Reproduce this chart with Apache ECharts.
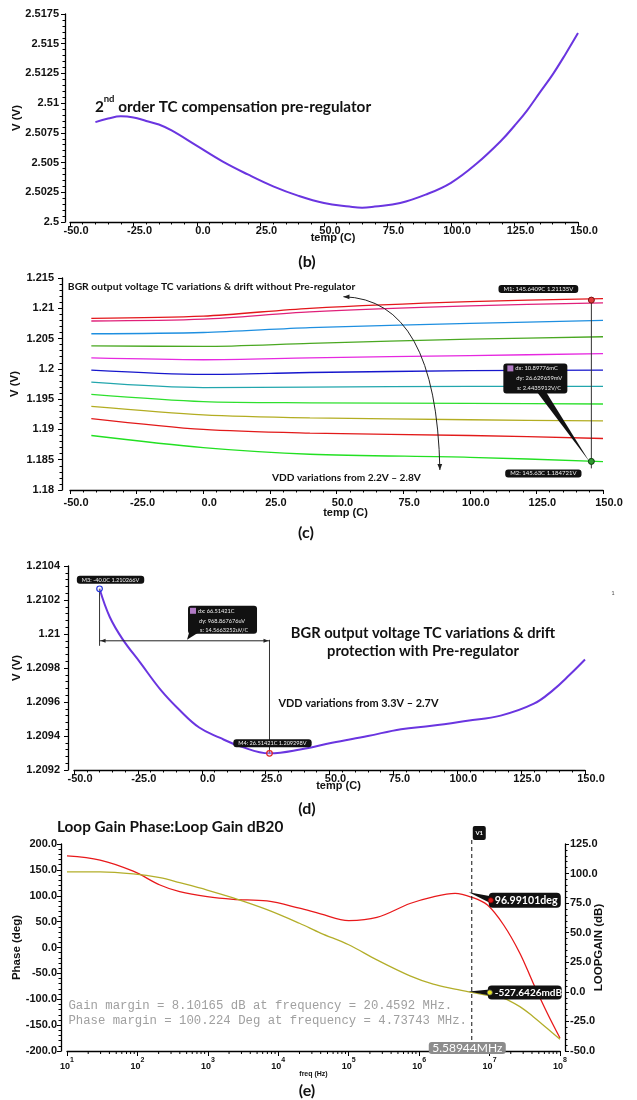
<!DOCTYPE html>
<html>
<head>
<meta charset="utf-8">
<script src="https://cdn.jsdelivr.net/npm/echarts@6/dist/echarts.min.js"></script>
<style>
html,body{margin:0;padding:0;background:#ffffff;}
#chart{width:637px;height:1100px;}
#err{position:absolute;left:100px;top:300px;font:10px monospace;white-space:pre-wrap;color:#900;}
</style>
</head>
<body>
<div id="chart"></div>
<div id="err"></div>
<script>
// ---------------- data ----------------
// Panel (b): 2nd order TC compensation pre-regulator
const tempB = [-40,-35,-30,-25,-20,-15,-10,0,10,20,30,40,50,60,65,70,80,90,100,110,120,125,130,135,140,145,150];
const voltB = [2.5084,2.5087,2.5089,2.5088,2.5085,2.5082,2.5077,2.5064,2.5051,2.5040,2.5030,2.5022,2.5016,2.5013,2.5012,2.5013,2.5016,2.5023,2.5033,2.5049,2.5069,2.5081,2.5094,2.5109,2.5124,2.5141,2.5159];

// Panel (c): BGR output without pre-regulator (VDD 2.2V - 2.8V)
const tempC = [-42, 0, 40, 100, 150];
const vC01 = [1.20835, 1.2087, 1.2100, 1.2111, 1.2116];
const vC02 = [1.2079, 1.2082, 1.2094, 1.2104, 1.2109];
const vC03 = [1.2058, 1.2060, 1.2068, 1.2075, 1.2080];
const vC04 = [1.2038, 1.2037, 1.2042, 1.2049, 1.2053];
const vC05 = [1.2018, 1.2015, 1.2018, 1.2022, 1.2025];
const vC06 = [1.1998, 1.1991, 1.1994, 1.1997, 1.1998];
const vC07 = [1.1978, 1.1969, 1.1970, 1.1971, 1.1971];
const vC08 = [1.1958, 1.1946, 1.1944, 1.1943, 1.1942];
const vC09 = [1.1938, 1.1924, 1.1919, 1.1916, 1.1914];
const vC10 = [1.1918, 1.1900, 1.1894, 1.1890, 1.1885];
const vC11 = [1.1890, 1.1870, 1.1859, 1.1854, 1.1847];
const seriesC = [vC01, vC02, vC03, vC04, vC05, vC06, vC07, vC08, vC09, vC10, vC11];
const colorsC = ['#e3161b','#e0207a','#1e8fe0','#4aa822','#e628e0','#1616cc','#22a6ad','#2ee02e','#b3ad22','#e21a1a','#22e022'];
const markM1 = [145.6409, 1.21135];
const markM2 = [145.63, 1.184721];

// Panel (d): BGR output with pre-regulator (VDD 3.3V - 2.7V)
const tempD = [-40,-36,-31,-24,-16,-8.5,-1,7,15,26.5,38.5,51,65,78,90,104,117,130,137.5,144,150];
const voltD = [1.210266,1.21010,1.20997,1.20983,1.20967,1.20955,1.20945,1.20939,1.20934,1.209298,1.20932,1.20936,1.20940,1.20944,1.20946,1.20949,1.20952,1.20959,1.20967,1.20976,1.20985];
const markM3 = [-40.0, 1.210266];
const markM4 = [26.51421, 1.209298];

// Panel (e): loop gain (dB20) and phase vs frequency
const freqE  = [10, 29.5, 87.1, 208.9, 398, 977, 2291, 6918, 19953, 39811, 100000, 251189, 741310, 1584893, 3235937, 5589440, 9332543, 15848932, 26915348, 41686938, 66069345, 100000000];
const phaseE = [177, 169, 147.5, 120.8, 107.9, 98.2, 93.1, 89.9, 76, 65, 52, 58, 85, 98, 104.5, 97, 82, 43.5, -11, -69, -127, -175];
const gainE  = [101.5, 101.5, 99.8, 96.5, 92.3, 86.1, 79.4, 69.5, 58, 49.7, 39.8, 27, 13.5, 6.5, 2.3, -0.53, -3, -5.5, -12.5, -21, -31, -40];
const markV1 = 5.58944e6;
const markPhase = 96.99101;
const markGain = -0.5276426;

// ---------------- chart ----------------
const FONT = 'Lato, "Open Sans", "DejaVu Sans", sans-serif';
const AXF = '"Liberation Sans", Arial, sans-serif';
const chart = echarts.init(document.getElementById('chart'), null, {renderer: 'canvas', width: 637, height: 1100});
const labStyle = {fontFamily: AXF, fontWeight: 'bold', fontSize: 11, color: '#111'};
const axLine = () => ({onZero: false, lineStyle: {color: '#000', width: 1.3}});

function xTemp(grid, margin, nameGap) {
  return {
    type: 'value', gridIndex: grid, min: -50, max: 150, interval: 25,
    axisLine: axLine(),
    axisTick: {length: 4, lineStyle: {color: '#000'}},
    minorTick: {show: true, splitNumber: 5, length: 2.5, lineStyle: {color: '#000'}},
    splitLine: {show: false},
    axisLabel: Object.assign({}, labStyle, {margin: margin, padding: [0, 0, 0, 12], formatter: v => v.toFixed(1)}),
    name: 'temp (C)', nameLocation: 'middle', nameGap: nameGap, nameMoveOverlap: false,
    nameTextStyle: {fontFamily: AXF, fontWeight: 'bold', fontSize: 11, color: '#111', padding: [0, 0, 0, 18]}
  };
}
function yVal(grid, min, max, interval, digits, offset, margin, name, nameGap, pos) {
  return {
    type: 'value', gridIndex: grid, min: min, max: max, interval: interval, offset: offset,
    position: pos || 'left',
    axisLine: axLine(),
    axisTick: {length: 4, lineStyle: {color: '#000'}},
    minorTick: {show: true, splitNumber: 5, length: 2.5, lineStyle: {color: '#000'}},
    splitLine: {show: false},
    axisLabel: Object.assign({}, labStyle, {margin: margin, formatter: v => digits < 0 ? String(parseFloat(v.toFixed(-digits))) : v.toFixed(digits)}),
    name: name, nameLocation: 'middle', nameGap: nameGap, nameMoveOverlap: false,
    nameTextStyle: {fontFamily: AXF, fontWeight: 'bold', fontSize: 11.5, color: '#111'}
  };
}

const series = [];
series.push({type: 'line', xAxisIndex: 0, yAxisIndex: 0, showSymbol: false, smooth: 0.4,
  data: tempB.map((t, i) => [t, voltB[i]]), lineStyle: {color: '#6a35e0', width: 2}});
seriesC.forEach((arr, k) => {
  series.push({type: 'line', xAxisIndex: 1, yAxisIndex: 1, showSymbol: false, smooth: 0.3,
    data: tempC.map((t, i) => [t, arr[i]]), lineStyle: {color: colorsC[k], width: 1.3}});
});
series.push({type: 'line', xAxisIndex: 2, yAxisIndex: 2, showSymbol: false, smooth: 0.4,
  data: tempD.map((t, i) => [t, voltD[i]]), lineStyle: {color: '#6a35e0', width: 2}});
const phaseIdx = series.length;
series.push({type: 'line', xAxisIndex: 3, yAxisIndex: 3, showSymbol: false, smooth: 0.35,
  data: freqE.map((f, i) => [Math.log10(f), phaseE[i]]), lineStyle: {color: '#e8191b', width: 1.3}});
const gainIdx = series.length;
series.push({type: 'line', xAxisIndex: 4, yAxisIndex: 4, showSymbol: false, smooth: 0.35,
  data: freqE.map((f, i) => [Math.log10(f), gainE[i]]), lineStyle: {color: '#b3ae2a', width: 1.3}});
// decade minor ticks of the logarithmic frequency axis
const minorE = [];
for (let n = 1; n < 8; n++) for (let k = 2; k < 10; k++) minorE.push([n + Math.log10(k), -200]);
series.push({type: 'custom', xAxisIndex: 3, yAxisIndex: 3, silent: true, clip: false,
  data: minorE, encode: {x: 0, y: 1},
  renderItem: (params, api) => {
    const p = api.coord([api.value(0), api.value(1)]);
    return {type: 'line', shape: {x1: p[0], y1: p[1], x2: p[0], y2: p[1] + 3}, style: {stroke: '#000', lineWidth: 1}};
  }});

const gridE = {left: 67, top: 844, width: 493, height: 207};
const option = {
  backgroundColor: '#ffffff',
  animation: false,
  grid: [
    {left: 70, top: 14, width: 508, height: 208},
    {left: 70, top: 278, width: 533, height: 212},
    {left: 74, top: 566, width: 511, height: 204},
    Object.assign({}, gridE),
    Object.assign({}, gridE)
  ],
  xAxis: [
    xTemp(0, 3, 10), xTemp(1, 7, 17), xTemp(2, 3, 10),
    {type: 'value', gridIndex: 3, min: 1, max: 8, interval: 1, axisLine: axLine(),
      axisTick: {length: 5, lineStyle: {color: '#000'}}, splitLine: {show: false},
      axisLabel: {margin: 6, formatter: v => '{b|10}{s|' + Math.round(v) + '}',
        rich: {b: {fontFamily: AXF, fontWeight: 'bold', fontSize: 9, color: '#111', lineHeight: 14, verticalAlign: 'bottom'},
               s: {fontFamily: AXF, fontWeight: 'bold', fontSize: 7, color: '#111', lineHeight: 14, verticalAlign: 'top'}}},
      name: 'freq (Hz)', nameLocation: 'middle', nameGap: 20, nameMoveOverlap: false,
      nameTextStyle: {fontFamily: AXF, fontWeight: 'bold', fontSize: 7, color: '#111'}},
    {type: 'value', gridIndex: 4, min: 1, max: 8, interval: 1, show: false}
  ],
  yAxis: [
    yVal(0, 2.5, 2.5175, 0.0025, -4, 5, 6, 'V (V)', 42),
    yVal(1, 1.18, 1.215, 0.005, -3, 8, 8, 'V (V)', 41),
    yVal(2, 1.2092, 1.2104, 0.0002, -4, 6, 8, 'V (V)', 45),
    yVal(3, -200, 200, 50, 1, 6, 4, 'Phase (deg)', 38),
    yVal(4, -50, 125, 25, 1, 5, 5, 'LOOPGAIN (dB)', 28, 'right')
  ],
  series: series
};
const LOG = [];
try { chart.setOption(option); } catch (e) { LOG.push('main: ' + e.message); }

// ---------------- annotations ----------------
const P = (g, x, y) => chart.convertToPixel({gridIndex: g}, [x, y]);
const G = [];
function txt(x, y, text, font, fill, align, vAlign, extra) {
  G.push({type: 'text', x: x, y: y, z: 100, silent: true,
    style: Object.assign({text: text, font: font, fill: fill || '#111', align: align || 'left', verticalAlign: vAlign || 'middle'}, extra || {})});
}
function line(x1, y1, x2, y2, stroke, lw, dash) {
  const st = {stroke: stroke || '#222', lineWidth: lw || 1};
  if (dash) st.lineDash = dash;
  G.push({type: 'line', z: 99, silent: true, shape: {x1: x1, y1: y1, x2: x2, y2: y2}, style: st});
}
function rect(x, y, w, h, fill, r) {
  G.push({type: 'rect', z: 100, silent: true, shape: {x: x, y: y, width: w, height: h, r: r || 0}, style: {fill: fill}});
}
function dot(x, y, r, fill, stroke, lw) {
  G.push({type: 'circle', z: 102, silent: true, shape: {cx: x, cy: y, r: r}, style: {fill: fill, stroke: stroke, lineWidth: lw || 1}});
}
function poly(points, fill) {
  G.push({type: 'polygon', z: 100, silent: true, shape: {points: points}, style: {fill: fill}});
}
function head(tx, ty, dx, dy, size, fill) {
  const L = Math.hypot(dx, dy), ux = dx / L, uy = dy / L, nx = -uy, ny = ux;
  const bx = tx - ux * size, by = ty - uy * size;
  poly([[tx, ty], [bx + nx * size * 0.4, by + ny * size * 0.4], [bx - nx * size * 0.4, by - ny * size * 0.4]], fill || '#222');
}
function tag(x, y, text, font) {
  txt(x, y, text, font || '6px ' + FONT, '#f2f2f2', 'center', 'middle',
    {backgroundColor: '#111', borderRadius: 3, padding: [1, 5, 1, 5]});
}
const BOLD = s => 'bold ' + s + 'px ' + FONT;

try {
  txt(307, 262, '(b)', BOLD(16), '#111', 'center');
  txt(306, 533, '(c)', BOLD(16), '#111', 'center');
  txt(307, 809, '(d)', BOLD(16), '#111', 'center');
  txt(307, 1091, '(e)', BOLD(16), '#111', 'center');

  // (b) title
  {
    const p = P(0, -40.2, 2.5099);
    G.push({type: 'text', x: p[0], y: p[1], z: 100, silent: true, style: {
      text: '{a|2}{s|nd}{a| order TC compensation pre-regulator}', align: 'left', verticalAlign: 'middle',
      rich: {
        a: {font: BOLD(15.3), fill: '#111', lineHeight: 20, verticalAlign: 'bottom'},
        s: {font: BOLD(9.5), fill: '#111', lineHeight: 20, verticalAlign: 'top'}
      }
    }});
  }

  // (c) annotations
  {
    const t1 = P(1, -50.8, 1.21351);
    txt(t1[0], t1[1], 'BGR output voltage TC variations & drift without Pre-regulator', BOLD(10.3));
    const t2 = P(1, 25.8, 1.18198);
    txt(t2[0], t2[1], 'VDD variations from 2.2V \u2013 2.8V', BOLD(10.15));
    const a0 = P(1, 52.6, 1.21191), a1 = P(1, 88.8, 1.1833), ac = P(1, 87.5, 1.2115);
    G.push({type: 'bezierCurve', z: 99, silent: true,
      shape: {x1: a0[0], y1: a0[1], x2: a1[0], y2: a1[1], cpx1: ac[0], cpy1: ac[1]},
      style: {stroke: '#222', lineWidth: 1, fill: null}});
    head(a0[0], a0[1], a0[0] - ac[0], a0[1] - ac[1], 6);
    head(a1[0], a1[1], a1[0] - ac[0], a1[1] - ac[1], 6);
    const m1 = P(1, markM1[0], markM1[1]), m2 = P(1, markM2[0], markM2[1]);
    line(m1[0], m1[1], m2[0], m2[1] + 7, '#333', 1);
    dot(m1[0], m1[1], 3, '#e03a3a', '#7a1010', 1);
    dot(m2[0], m2[1], 3, '#2f9a2f', '#0a3a0a', 1);
    tag(m1[0] - 53, m1[1] - 11, 'M1: 145.6409C 1.21135V');
    tag(m2[0] - 48, m2[1] + 12, 'M2: 145.63C 1.184721V');
    const bx = m2[0] - 88, by = m2[1] - 98;
    poly([[bx + 34, by + 29], [bx + 43, by + 29], [m2[0] - 2, m2[1]]], '#111');
    rect(bx, by, 64, 30, '#111', 3);
    rect(bx + 4, by + 2, 6, 6, '#b07ac4', 0);
    txt(bx + 12, by + 5, 'dx: 10.89776mC', '5.8px ' + FONT, '#eee');
    txt(bx + 13, by + 15, 'dy: 26.629659mV', '5.8px ' + FONT, '#eee');
    txt(bx + 14, by + 25, 's: 2.4435912V/C', '5.8px ' + FONT, '#eee');
  }

  // (d) annotations
  {
    const m3 = P(2, markM3[0], markM3[1]), m4 = P(2, markM4[0], markM4[1]);
    const hy = P(2, 0, 1.20996)[1];
    line(m3[0], m3[1], m3[0], hy + 5, '#333', 1);
    line(m4[0], hy - 1, m4[0], m4[1], '#333', 1);
    line(m3[0], hy, m4[0], hy, '#222', 1);
    head(m3[0] + 1, hy, -1, 0, 5);
    head(m4[0] - 1, hy, 1, 0, 5);
    dot(m3[0], m3[1], 2.8, 'rgba(255,255,255,0.3)', '#2233dd', 1.2);
    dot(m4[0], m4[1], 2.8, 'rgba(255,255,255,0.3)', '#dd2222', 1.2);
    tag(m3[0] + 11, m3[1] - 9, 'M3: -40.0C 1.210266V', '5.6px ' + FONT);
    tag(m4[0] + 3, m4[1] - 10, 'M4: 26.51421C 1.209298V', '5.6px ' + FONT);
    const bx = (m3[0] + m4[0]) / 2 + 3.5, by = hy - 35;
    poly([[bx + 1, by + 27], [bx + 10, by + 27], [bx - 1, hy - 1]], '#111');
    rect(bx, by, 69, 28, '#111', 3);
    rect(bx + 2, by + 2, 6, 6, '#b07ac4', 0);
    txt(bx + 10, by + 5, 'dx: 66.51421C', '5.6px ' + FONT, '#eee');
    txt(bx + 11, by + 15, 'dy: 968.867676uV', '5.6px ' + FONT, '#eee');
    txt(bx + 12, by + 24.5, 's: 14.5663252uV/C', '5.6px ' + FONT, '#eee');
    const c1 = P(2, 86.6, 1.20996), c2 = P(2, 86.6, 1.209854);
    txt(c1[0], c1[1] - 8, 'BGR output voltage TC variations & drift', BOLD(14.7), '#111', 'center');
    txt(c2[0], c2[1] - 8, 'protection with Pre-regulator', BOLD(14.7), '#111', 'center');
    const v = P(2, 30.0, 1.20959);
    txt(v[0], v[1], 'VDD variations from 3.3V \u2013 2.7V', BOLD(10.9));
    const one = P(2, 161, 1.21024);
    txt(one[0], one[1], '1', '6px ' + FONT, '#555', 'center');
  }

  // (e) annotations
  {
    txt(57, 827, 'Loop Gain Phase:Loop Gain dB20', BOLD(15.3));
    const lv = Math.log10(markV1);
    const top = P(3, lv, 200), bot = P(3, lv, -200);
    const vx = top[0];
    line(vx, top[1] - 4, vx, bot[1] + 1, '#111', 1, [4, 3]);
    rect(vx + 1, top[1] - 18, 13, 14, '#111', 2);
    txt(vx + 7.5, top[1] - 11, 'V1', 'bold 6px ' + FONT, '#fff', 'center');
    const pp = P(3, lv, markPhase);
    poly([[vx - 3, pp[1] - 5], [vx + 19, pp[1] - 1], [vx + 19, pp[1] + 6]], '#111');
    rect(vx + 17, pp[1] - 4.5, 72, 15, '#111', 4);
    dot(vx + 19, pp[1] + 3, 2.6, '#e01818', '#700', 0.8);
    txt(vx + 23, pp[1] + 3.2, '96.99101deg', BOLD(10.6), '#fff');
    const pg = chart.convertToPixel({seriesIndex: gainIdx}, [lv, markGain]);
    poly([[vx - 3, pg[1] - 1], [vx + 18, pg[1] - 3], [vx + 18, pg[1] + 3]], '#111');
    rect(vx + 16, pg[1] - 7, 74, 14, '#111', 4);
    dot(vx + 18, pg[1], 2.6, '#e8e820', '#555', 0.8);
    txt(vx + 23, pg[1] + 0.3, '-527.6426mdB', BOLD(10), '#fff');
    rect(vx - 43, bot[1] - 9, 77, 12, '#8c8c8c', 3);
    txt(vx - 4.5, bot[1] - 3, '5.58944MHz', '12px ' + FONT, '#fff', 'center');
    const gm = P(3, 1.02, -112), pm = P(3, 1.02, -141);
    txt(gm[0], gm[1], 'Gain margin = 8.10165 dB at frequency = 20.4592 MHz.', '12.3px "Liberation Mono", monospace', '#a0a0a0');
    txt(pm[0], pm[1], 'Phase margin = 100.224 Deg at frequency = 4.73743 MHz.', '12.3px "Liberation Mono", monospace', '#a0a0a0');
  }
  chart.setOption({graphic: G});
} catch (e) { LOG.push('graphic: ' + e.message); }
document.getElementById('err').textContent = LOG.join('\n');
</script>
</body>
</html>
